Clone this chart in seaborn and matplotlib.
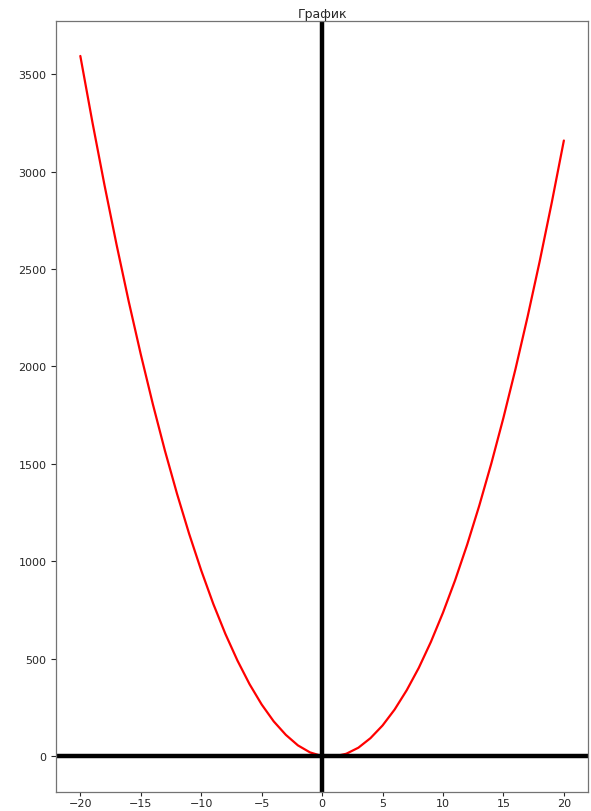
import matplotlib
matplotlib.use("Agg")
import matplotlib.pyplot as plt
import seaborn as sns
import pandas as pd

# values (one point per integer x)
x_values = list(range(-20, 21))
y_values = [3593, 3253, 2930, 2624, 2334, 2062, 1806, 1567, 1346, 1141,
            953, 781, 627, 490, 369, 265, 178, 109, 55, 19,
            0, -2, 12, 43, 92, 157, 239, 338, 453, 586,
            736, 902, 1085, 1285, 1502, 1736, 1987, 2255, 2539, 2841, 3159]
title = "График"

df = pd.DataFrame({"x": x_values, "y": y_values})

sns.set_style("ticks")
plt.rcParams['font.family'] = ['DejaVu Sans']

fig, ax = plt.subplots(figsize=(5.91, 8.12), dpi=100)
fig.subplots_adjust(left=0.095, right=0.995, top=0.973, bottom=0.024)

sns.lineplot(data=df, x="x", y="y", color="red", linewidth=1.6, ax=ax)
ax.axhline(0, color="black", linewidth=3.2)
ax.axvline(0, color="black", linewidth=3.2)

ax.set_title(title, fontsize=9, pad=3)
ax.set_xlabel("")
ax.set_ylabel("")
ax.tick_params(labelsize=8)
ax.tick_params(axis="x", length=3, pad=1.5)
for s in ax.spines.values():
    s.set_color("0.45")
    s.set_linewidth(0.9)

fig.savefig("out.png", dpi=100)
